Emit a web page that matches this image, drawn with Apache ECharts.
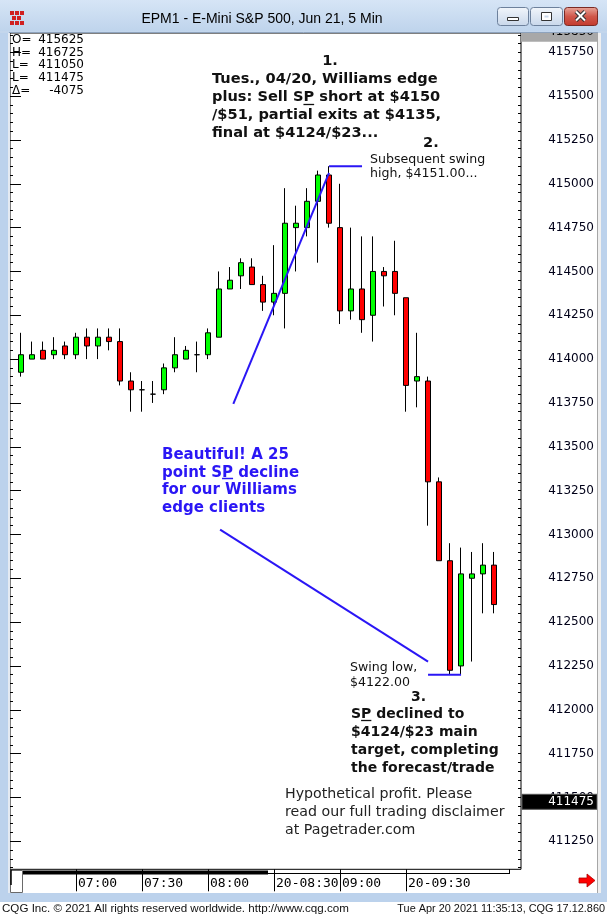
<!DOCTYPE html>
<html><head><meta charset="utf-8">
<script src="https://cdn.jsdelivr.net/npm/echarts@6/dist/echarts.min.js"></script>
<style>html,body{margin:0;padding:0;background:#fff;overflow:hidden}#c{width:607px;height:915px}</style>
</head><body><div id="c"></div>
<script>
// ---------- data ----------
const times = ['06:35','06:40','06:45','06:50','06:55','07:00','07:05','07:10','07:15','07:20','07:25','07:30',
  '07:35','07:40','07:45','07:50','07:55','08:00','08:05','08:10','08:15','08:20','08:25','08:30',
  '08:35','08:40','08:45','08:50','08:55','09:00','09:05','09:10','09:15','09:20','09:25','09:30',
  '09:35','09:40','09:45','09:50','09:55','10:00','10:05','10:10'];
const opens  = [413925,414000,414050,414025,414075,414025,414125,414075,414125,414100,413875,413825,
  413800,413825,413950,414000,414025,414025,414125,414400,414475,414525,414425,414325,
  414375,414750,414750,414900,415050,414750,414275,414400,414250,414500,414500,414350,
  413875,413875,413300,412850,412250,412750,412775,412825];
const closes = [414025,414025,414000,414050,414025,414125,414075,414125,414100,413875,413825,413825,
  413800,413950,414025,414050,414025,414150,414400,414450,414550,414425,414325,414375,
  414775,414775,414900,415050,414775,414275,414400,414225,414500,414475,414375,413850,
  413900,413300,412850,412225,412775,412775,412825,412600];
const lows   = [413900,414000,414000,414000,414000,414000,414000,414000,414050,413850,413700,413700,
  413750,413800,413925,414000,413925,414000,414125,414400,414400,414425,414275,414250,
  414175,414500,414700,414550,414750,414200,414225,414150,414100,414300,414250,413700,
  413725,413050,412850,412200,412200,412275,412550,412550];
const highs  = [414150,414100,414100,414125,414100,414150,414175,414175,414175,414175,413925,413875,
  413875,413975,414125,414075,414100,414175,414500,414525,414575,414575,414475,414650,
  414975,414875,414975,415075,415100,415000,414750,414700,414700,414525,414675,414350,
  414150,413900,413325,412950,412925,412900,412950,412900];
const xTickIndex  = [5, 11, 17, 23, 29, 35];
const xTickLabels = ['07:00','07:30','08:00','20-08:30','09:00','20-09:30'];
const yTicks = [411250,411500,411750,412000,412250,412500,412750,413000,413250,413500,413750,
  414000,414250,414500,414750,415000,415250,415500,415750];
const infoKeys = ['O=','H=','L=','L=','\u0394='];
const infoVals = ['415625','416725','411050','411475','-4075'];
const lastPrice = 411475;
const topMarker = 415850;
// annotation segments in data coordinates [barIndex, price]
const annoSegments = [
  [[28, 415100], [31, 415100]],
  [[28, 415062], [19.3, 413745]],
  [[18.1, 413027], [37, 412275]],
  [[37, 412200], [40, 412200]]
];

// ---------- chart ----------
const chart = echarts.init(document.getElementById('c'), null, {renderer:'canvas', width:607, height:915});
const Y_MIN = 411090, Y_MAX = 415860;
const minorTicks = [];
for (let v = 411100; v <= 415850; v += 50) minorTicks.push(v);
const candleData = times.map((t, i) => [i, opens[i], closes[i], lows[i], highs[i]]);
const BLUE = '#2a16f5';
const yLabelFont = 'DejaVu Sans';

function yAx(pos, ticks, len, labels) {
  return {
    type:'value', position:pos, min:Y_MIN, max:Y_MAX, scale:true,
    axisLine:{show:false}, splitLine:{show:false},
    axisTick:{show:true, inside:true, length:len, customValues:ticks, lineStyle:{color:'#000', width:1}},
    axisLabel: labels ? {show:true, customValues:yTicks, align:'right', margin:73, color:'#000018',
      fontFamily:yLabelFont, fontSize:12, formatter:v => String(v)} : {show:false}
  };
}

const option = {
  animation:false,
  backgroundColor:'#ffffff',
  grid:{left:10, top:33, width:511, height:836.3, show:true, backgroundColor:'#ffffff', borderColor:'#000', borderWidth:1},
  xAxis:{
    type:'value', min:-1, max:45.45, position:'bottom',
    axisLine:{show:false}, splitLine:{show:false},
    axisTick:{show:true, length:22, customValues:xTickIndex, lineStyle:{color:'#000', width:1}},
    axisLabel:{show:true, customValues:xTickIndex, align:'left', verticalAlign:'top', margin:8,
      padding:[0,0,0,2], fontFamily:'DejaVu Sans Mono', fontSize:13, color:'#000',
      formatter:v => { const k = xTickIndex.indexOf(Math.round(v)); return k >= 0 ? xTickLabels[k] : ''; }}
  },
  yAxis:[ yAx('right', yTicks, 6, true), yAx('right', minorTicks, 3, false),
          yAx('left', yTicks, 6, false), yAx('left', minorTicks, 3, false) ],
  series:[
    {
      type:'candlestick', data:candleData, encode:{x:0, y:[1,2,3,4]}, barWidth:5,
      itemStyle:{color:'#00ff00', color0:'#ff0000', borderColor:'#000', borderColor0:'#000',
        borderColorDoji:'#000', borderWidth:1}
    }
  ].concat(annoSegments.map(seg => ({
    type:'line', data:seg, symbol:'none', silent:true, z:5,
    lineStyle:{color:BLUE, width:2}
  })))
};
chart.setOption(option);

// ---------- annotations & window frame ----------
const cv = document.createElement('canvas').getContext('2d');
function tw(str, font) { cv.font = font; return cv.measureText(str).width; }
function T(text, x, y, font, fill, align, z) {
  return {type:'text', z:z || 60, silent:true,
    style:{text, x, y, font, fill: fill || '#111', align: align || 'left', textAlign: align || 'left',
      verticalAlign:'middle', textVerticalAlign:'middle'}};
}
function R(x, y, w, h, fill, z, stroke, r) {
  return {type:'rect', z:z || 50, silent:true, shape:{x, y, width:w, height:h, r:r || 0},
    style:{fill, stroke: stroke || null, lineWidth:1}};
}
function L(x1, y1, x2, y2, stroke, w, z) {
  return {type:'line', z:z || 55, silent:true, shape:{x1, y1, x2, y2}, style:{stroke, lineWidth:w || 1}};
}
const g = [];
const F1 = 'bold 14.6px "DejaVu Sans"';
const FB = 'bold 15px "DejaVu Sans"';
const F3 = 'bold 14px "DejaVu Sans"';
const FS = '12.6px "DejaVu Sans"';
const FH = '14.2px "DejaVu Sans"';

// annotation 1
g.push(T('1.', 330, 61.5, F1, '#111', 'center'));
const t1 = ['Tues., 04/20, Williams edge', 'plus: Sell SP short at $4150', '/$51, partial exits at $4135,', 'final at $4124/$23...'];
const t1y = [79.3, 97.3, 115.3, 133];
t1.forEach((s, i) => g.push(T(s, 212, t1y[i], F1)));
{ const x0 = 212 + tw('plus: Sell S', F1); g.push(L(x0, 104.5, x0 + tw('P', F1), 104.5, '#111', 1.3)); }
// annotation 2
g.push(T('2.', 423, 143.5, F1));
g.push(T('Subsequent swing', 370, 159.5, FS, '#111'));
g.push(T('high, $4151.00...', 370, 174, FS, '#111'));
// blue text
const tb = ['Beautiful! A 25', 'point SP decline', 'for our Williams', 'edge clients'];
const tby = [455.5, 473, 490.5, 508];
tb.forEach((s, i) => g.push(T(s, 162, tby[i], FB, BLUE)));
{ const x0 = 162 + tw('point S', FB); g.push(L(x0, 478.5, x0 + tw('P', FB), 478.5, BLUE, 1.5)); }
// swing low
g.push(T('Swing low,', 350, 668, FS, '#111'));
g.push(T('$4122.00', 350, 683, FS, '#111'));
// annotation 3
g.push(T('3.', 411, 697, F3));
const t3 = ['SP declined to', '$4124/$23 main', 'target, completing', 'the forecast/trade'];
const t3y = [714.5, 732.5, 750.5, 768.5];
t3.forEach((s, i) => g.push(T(s, 351, t3y[i], F3)));
{ const x0 = 351 + tw('S', F3); g.push(L(x0, 720.5, x0 + tw('P', F3), 720.5, '#111', 1.3)); }
// disclaimer
['Hypothetical profit. Please', 'read our full trading disclaimer', 'at Pagetrader.com'].forEach((s, i) =>
  g.push(T(s, 285, 794 + i * 18, FH, '#222')));

// info box
const infoY = [40, 52.5, 65, 78, 90.5];
infoKeys.forEach((k, i) => {
  g.push(T(k, 12, infoY[i], '12px "DejaVu Sans"', '#000'));
  g.push(T(infoVals[i], 84, infoY[i], '12px "DejaVu Sans"', '#000', 'right'));
});

// price markers on the axis
const yTop = chart.convertToPixel({yAxisIndex:0}, topMarker);
g.push(R(521, yTop - 8, 76, 15, '#a8a8a8', 40));
g.push(T(String(topMarker), 594, yTop - 2.5, '12px "DejaVu Sans"', '#000', 'right', 41));
const yLast = chart.convertToPixel({yAxisIndex:0}, lastPrice);
g.push(R(522, yLast - 7.5, 75, 15, '#000', 40, '#555'));
g.push(T(String(lastPrice), 594, yLast, '12px "DejaVu Sans"', '#fff', 'right', 41));

// window frame
const frameBlue = '#bcd2ec';
g.push({type:'rect', z:100, silent:true, shape:{x:0, y:0, width:607, height:31},
  style:{fill:new echarts.graphic.LinearGradient(0,0,0,1,[{offset:0,color:'#d6e5f6'},{offset:1,color:'#bfd4ec'}])}});
g.push(R(0, 31, 607, 2, '#c3d6ec', 100));
g.push(L(9, 32.5, 598, 32.5, '#8ea3bd', 1, 101));
g.push(R(0, 33, 8, 870, frameBlue, 100));
g.push(R(8, 33, 2, 860, '#e4eaf2', 100));
g.push(R(597, 33, 1, 860, '#a6a6a6', 100));
g.push(R(598, 33, 3, 860, '#f0f0f0', 100));
g.push(R(601, 33, 6, 870, frameBlue, 100));
g.push(R(0, 893, 607, 9, frameBlue, 100));
g.push(R(0, 902, 607, 13, '#ffffff', 100));
g.push(T('CQG Inc. \u00a9 2021 All rights reserved worldwide. http://www.cqg.com', 2, 908.5, '11.6px "Liberation Sans"', '#111', 'left', 101));
g.push(T('Tue Apr 20 2021 11:35:13, CQG 17.12.860', 605, 908.5, '10.9px "Liberation Sans"', '#111', 'right', 101));
// title
g.push(T('EPM1 - E-Mini S&P 500, Jun 21, 5 Min', 262, 19.5, '14px "Liberation Sans"', '#000', 'center', 101));
// app icon
[[10,11],[15,11],[20,11],[12,16],[17,16],[10,21],[15,21],[20,21]].forEach(p => g.push(R(p[0], p[1], 4, 4, '#d02020', 101)));
// buttons
const btnGrad = () => new echarts.graphic.LinearGradient(0,0,0,1,[{offset:0,color:'#f2f6fb'},{offset:1,color:'#c8d7ea'}]);
g.push({type:'rect', z:101, silent:true, shape:{x:497.5, y:7.5, width:31, height:18, r:3}, style:{fill:btnGrad(), stroke:'#6d819c'}});
g.push({type:'rect', z:101, silent:true, shape:{x:530.5, y:7.5, width:32, height:18, r:3}, style:{fill:btnGrad(), stroke:'#6d819c'}});
g.push({type:'rect', z:101, silent:true, shape:{x:564.5, y:7.5, width:33, height:18, r:3},
  style:{fill:new echarts.graphic.LinearGradient(0,0,0,1,[{offset:0,color:'#e9a89c'},{offset:0.5,color:'#d0574a'},{offset:1,color:'#c2392c'}]), stroke:'#7a2a24'}});
g.push(R(507.5, 17.5, 11, 3, '#ffffff', 102, '#333'));
g.push(R(541.5, 12.5, 10, 8, '#ffffff', 102, '#333'));
g.push(R(544.5, 15.5, 4, 2, '#c8d7ea', 103));
g.push(L(576, 11.5, 585, 20.5, '#333', 4, 102)); g.push(L(585, 11.5, 576, 20.5, '#333', 4, 102));
g.push(L(576, 11.5, 585, 20.5, '#fff', 2, 103)); g.push(L(585, 11.5, 576, 20.5, '#fff', 2, 103));
// bottom scrollbar bits
g.push(R(10.5, 870.5, 12, 22, '#ffffff', 60, '#6a6a6a'));
g.push(L(11, 870, 11, 885, '#000', 1.5, 61));
g.push(R(23, 870.5, 245, 4, '#000', 60));
g.push(L(268, 873.5, 510, 873.5, '#000', 1, 60));
g.push(L(509.5, 869, 509.5, 874, '#000', 1, 60));
// red arrow
g.push({type:'polygon', z:60, silent:true, shape:{points:[[579,878],[587,878],[587,874],[595,880.5],[587,887],[587,883],[579,883]]},
  style:{fill:'#ff0000', stroke:'#b00000', lineWidth:0.8}});

chart.setOption({graphic:{elements:g}});
</script></body></html>
